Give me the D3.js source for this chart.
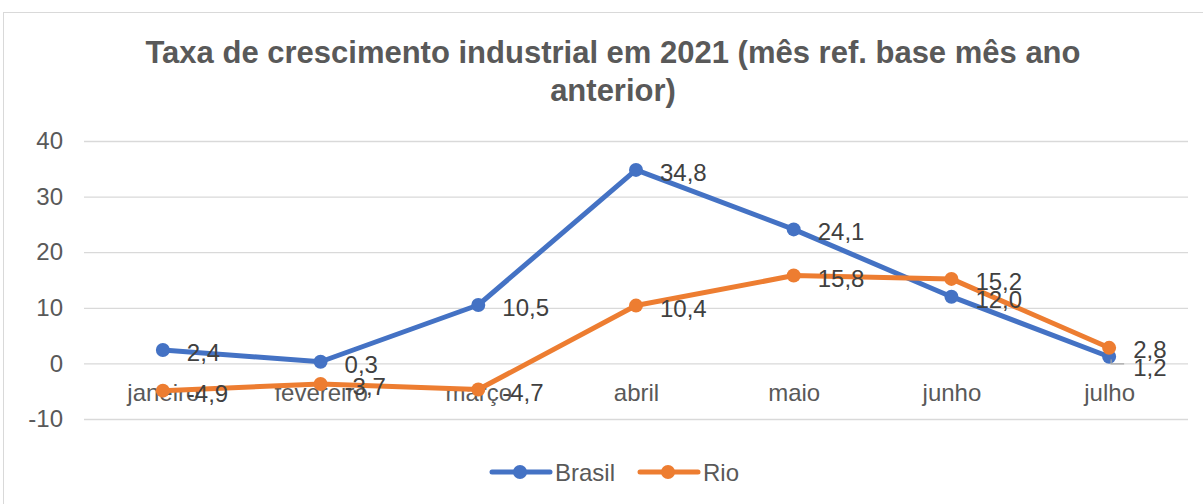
<!DOCTYPE html>
<html>
<head>
<meta charset="utf-8">
<script src="https://cdn.jsdelivr.net/npm/d3@7"></script>
<style>
  body { margin: 0; background: #fff; }
  svg text { font-family: "Liberation Sans", Arial, sans-serif; }
</style>
</head>
<body>
<svg width="1203" height="504"></svg>
<script>
var months = ['janeiro', 'fevereiro', 'março', 'abril', 'maio', 'junho', 'julho'];
var brasil = [2.4, 0.3, 10.5, 34.8, 24.1, 12.0, 1.2];
var rio = [-4.9, -3.7, -4.7, 10.4, 15.8, 15.2, 2.8];
var yTicks = [-10, 0, 10, 20, 30, 40];
var seriesNames = ['Brasil', 'Rio'];
var colors = ['#4472C4', '#ED7D31'];

var svg = d3.select('svg');
var margin = { top: 141, right: 15, bottom: 85, left: 84 };
var w = 1188 - margin.left;
var h = 419 - margin.top;

// chart border
svg.append('rect')
    .attr('x', 3.5).attr('y', 12.5)
    .attr('width', 1210).attr('height', 510)
    .attr('fill', 'none')
    .attr('stroke', '#d9d9d9');

// title
var title = svg.append('text')
    .attr('x', 613)
    .attr('text-anchor', 'middle')
    .style('font-size', '31px')
    .style('font-weight', 'bold')
    .style('fill', '#595959');
title.append('tspan').attr('x', 613).attr('y', 63)
    .text('Taxa de crescimento industrial em 2021 (mês ref. base mês ano');
title.append('tspan').attr('x', 613).attr('y', 101)
    .text('anterior)');

var g = svg.append('g')
    .attr('transform', 'translate(' + margin.left + ',' + margin.top + ')');

var x = d3.scalePoint().domain(months).range([0, w]).padding(0.5);
var y = d3.scaleLinear().domain([-10, 40]).range([h, 0]);

// gridlines + y axis labels
var yAxis = d3.axisLeft(y).tickValues(yTicks).tickSize(-w).tickPadding(21)
    .tickFormat(function (d) { return String(d); });
g.append('g')
    .attr('class', 'y-axis')
    .call(yAxis)
    .call(function (s) {
        s.select('.domain').remove();
        s.selectAll('line').attr('stroke', '#d9d9d9').attr('stroke-width', 1.3);
        s.selectAll('text')
            .style('font-size', '24px')
            .style('fill', '#595959')
            .style('font-family', '"Liberation Sans", Arial, sans-serif');
    });

// x axis labels placed at the zero line
var xAxis = d3.axisBottom(x).tickSize(0).tickPadding(21);
g.append('g')
    .attr('transform', 'translate(0,' + y(0) + ')')
    .call(xAxis)
    .call(function (s) {
        s.select('.domain').remove();
        s.selectAll('text')
            .style('font-size', '24px')
            .style('fill', '#595959')
            .style('font-family', '"Liberation Sans", Arial, sans-serif');
    });

var data = [brasil, rio];
var line = d3.line()
    .x(function (d, i) { return x(months[i]); })
    .y(function (d) { return y(d); });

data.forEach(function (vals, k) {
    g.append('path')
        .datum(vals)
        .attr('d', line)
        .attr('fill', 'none')
        .attr('stroke', colors[k])
        .attr('stroke-width', 5)
        .attr('stroke-linejoin', 'round')
        .attr('stroke-linecap', 'round');
    g.selectAll('.dot' + k)
        .data(vals)
        .enter()
        .append('circle')
        .attr('cx', function (d, i) { return x(months[i]); })
        .attr('cy', function (d) { return y(d); })
        .attr('r', 7)
        .attr('fill', colors[k]);
});

function fmt(v) { return v.toFixed(1).replace('.', ','); }

// leader line for julho Brasil label
g.append('path')
    .attr('d', 'M' + (x('julho') + 2) + ',' + (y(0) - 4) + 'V' + (y(0) + 0.5) + 'H' + (x('julho') + 15))
    .attr('fill', 'none')
    .attr('stroke', '#a6a6a6')
    .attr('stroke-width', 1.3);

// data labels
data.forEach(function (vals, k) {
    g.selectAll('.lbl' + k)
        .data(vals)
        .enter()
        .append('text')
        .attr('x', function (d, i) { return x(months[i]) + 24; })
        .attr('y', function (d, i) {
            var yy = y(d) + 11;
            if (i === 6 && k === 0) yy = y(d) + 19;
            if (i === 6 && k === 1) yy = y(d) + 10;
            return yy;
        })
        .style('font-size', '24px')
        .style('fill', '#404040')
        .text(function (d) { return fmt(d); });
});

// legend
var legend = svg.append('g').attr('transform', 'translate(490,472)');
seriesNames.forEach(function (name, k) {
    var lg = legend.append('g').attr('transform', 'translate(' + (k * 148) + ',0)');
    lg.append('line')
        .attr('x1', 2).attr('x2', 60)
        .attr('stroke', colors[k])
        .attr('stroke-width', 5)
        .attr('stroke-linecap', 'round');
    lg.append('circle').attr('cx', 30).attr('r', 7).attr('fill', colors[k]);
    lg.append('text')
        .attr('x', 65).attr('y', 9)
        .style('font-size', '24px')
        .style('fill', '#595959')
        .text(name);
});
</script>
</body>
</html>
